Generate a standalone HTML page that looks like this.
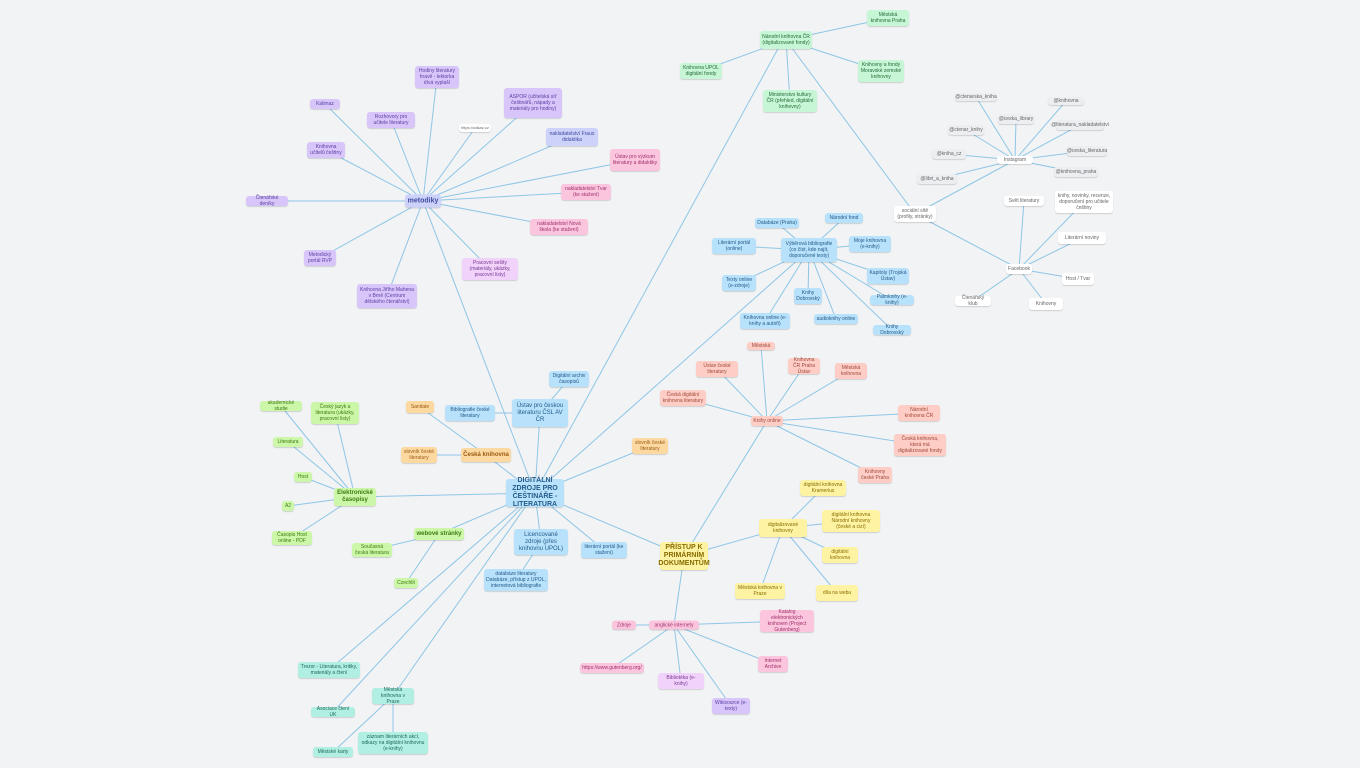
<!DOCTYPE html>
<html><head><meta charset="utf-8"><style>
html,body{margin:0;padding:0;background:#f2f3f5;width:1360px;height:768px;overflow:hidden;font-family:"Liberation Sans",sans-serif}
svg{position:absolute;left:0;top:0}
.n{position:absolute;transform:translate(-50%,-50%);border-radius:3px;display:flex;align-items:center;justify-content:center;text-align:center;font-size:5px;line-height:6px;box-shadow:0 1px 1px rgba(0,0,0,.15);box-sizing:border-box;padding:1px 2px}
.pu{background:#d8c6fb;color:#5b3fa0}.pk{background:#fbc5de;color:#a0306a}.gr{background:#c6f6d5;color:#276b3a}
.bl{background:#b8e2fb;color:#245a8a}.sa{background:#fdcdc6;color:#a04a3a}.ye{background:#fdf3a3;color:#8a6d00}
.li{background:#cdf7a8;color:#3d7a10}.or{background:#fdd9a2;color:#9a5a10}.te{background:#b0efe2;color:#1f6b5a}
.wh{background:#fff;color:#666}.gy{background:#eceef1;color:#666}.bp{background:#cdd2fb;color:#3f4aa0}.lp{background:#f0d2fb;color:#7a3a90}
.big{font-size:7px;line-height:8px;font-weight:bold}
</style></head><body>
<svg width="1360" height="768" stroke="#8ec6e6" stroke-width="1" fill="none">
<g>
<line x1="423" y1="201" x2="437" y2="77"/><line x1="423" y1="201" x2="325" y2="104"/><line x1="423" y1="201" x2="391" y2="120"/>
<line x1="423" y1="201" x2="326" y2="150"/><line x1="423" y1="201" x2="267" y2="201"/><line x1="423" y1="201" x2="320" y2="258"/>
<line x1="423" y1="201" x2="387" y2="296"/><line x1="423" y1="201" x2="475" y2="128"/><line x1="423" y1="201" x2="533" y2="103"/>
<line x1="423" y1="201" x2="572" y2="137"/><line x1="423" y1="201" x2="635" y2="160"/><line x1="423" y1="201" x2="586" y2="192"/>
<line x1="423" y1="201" x2="559" y2="227"/><line x1="423" y1="201" x2="490" y2="269"/>
<line x1="535" y1="493" x2="423" y2="201"/><line x1="535" y1="493" x2="780" y2="45"/><line x1="535" y1="493" x2="809" y2="250"/>
<line x1="535" y1="493" x2="684" y2="556"/><line x1="535" y1="493" x2="355" y2="497"/><line x1="535" y1="493" x2="439" y2="534"/>
<line x1="535" y1="493" x2="541" y2="542"/><line x1="535" y1="493" x2="604" y2="550"/><line x1="535" y1="493" x2="540" y2="413"/>
<line x1="535" y1="493" x2="486" y2="455"/><line x1="535" y1="493" x2="650" y2="446"/><line x1="535" y1="493" x2="329" y2="670"/>
<line x1="535" y1="493" x2="333" y2="712"/><line x1="535" y1="493" x2="393" y2="696"/>
<line x1="540" y1="413" x2="569" y2="379"/><line x1="540" y1="413" x2="470" y2="413"/>
<line x1="486" y1="455" x2="420" y2="407"/><line x1="486" y1="455" x2="419" y2="455"/>
<line x1="355" y1="497" x2="281" y2="406"/><line x1="355" y1="497" x2="335" y2="413"/><line x1="355" y1="497" x2="288" y2="442"/>
<line x1="355" y1="497" x2="303" y2="477"/><line x1="355" y1="497" x2="288" y2="506"/><line x1="355" y1="497" x2="292" y2="538"/>
<line x1="439" y1="534" x2="372" y2="550"/><line x1="439" y1="534" x2="406" y2="583"/><line x1="541" y1="542" x2="516" y2="580"/>
<line x1="393" y1="696" x2="333" y2="752"/><line x1="393" y1="696" x2="393" y2="743"/>
<line x1="786" y1="40" x2="888" y2="18"/><line x1="786" y1="40" x2="701" y2="71"/><line x1="786" y1="40" x2="881" y2="71"/>
<line x1="786" y1="40" x2="790" y2="101"/><line x1="786" y1="40" x2="915" y2="214"/>
<line x1="915" y1="214" x2="1015" y2="160"/><line x1="915" y1="214" x2="1019" y2="269"/>
<line x1="1015" y1="160" x2="976" y2="97"/><line x1="1015" y1="160" x2="1066" y2="101"/><line x1="1015" y1="160" x2="1016" y2="119"/>
<line x1="1015" y1="160" x2="966" y2="130"/><line x1="1015" y1="160" x2="1080" y2="125"/><line x1="1015" y1="160" x2="949" y2="154"/>
<line x1="1015" y1="160" x2="1087" y2="151"/><line x1="1015" y1="160" x2="1076" y2="172"/><line x1="1015" y1="160" x2="937" y2="179"/>
<line x1="1019" y1="269" x2="1024" y2="201"/><line x1="1019" y1="269" x2="1084" y2="202"/><line x1="1019" y1="269" x2="1082" y2="238"/>
<line x1="1019" y1="269" x2="1078" y2="279"/><line x1="1019" y1="269" x2="973" y2="301"/><line x1="1019" y1="269" x2="1046" y2="304"/>
<line x1="809" y1="250" x2="777" y2="223"/><line x1="809" y1="250" x2="844" y2="218"/><line x1="809" y1="250" x2="734" y2="246"/>
<line x1="809" y1="250" x2="870" y2="244"/><line x1="809" y1="250" x2="739" y2="283"/><line x1="809" y1="250" x2="888" y2="276"/>
<line x1="809" y1="250" x2="808" y2="296"/><line x1="809" y1="250" x2="765" y2="321"/><line x1="809" y1="250" x2="892" y2="300"/>
<line x1="809" y1="250" x2="836" y2="319"/><line x1="809" y1="250" x2="892" y2="330"/>
<line x1="684" y1="556" x2="767" y2="421"/><line x1="684" y1="556" x2="783" y2="528"/><line x1="684" y1="556" x2="674" y2="625"/>
<line x1="767" y1="421" x2="761" y2="346"/><line x1="767" y1="421" x2="717" y2="369"/><line x1="767" y1="421" x2="804" y2="366"/>
<line x1="767" y1="421" x2="851" y2="371"/><line x1="767" y1="421" x2="683" y2="398"/><line x1="767" y1="421" x2="919" y2="413"/>
<line x1="767" y1="421" x2="920" y2="445"/><line x1="767" y1="421" x2="875" y2="475"/>
<line x1="783" y1="528" x2="823" y2="488"/><line x1="783" y1="528" x2="851" y2="521"/><line x1="783" y1="528" x2="840" y2="555"/>
<line x1="783" y1="528" x2="760" y2="591"/><line x1="783" y1="528" x2="837" y2="593"/>
<line x1="674" y1="625" x2="624" y2="625"/><line x1="674" y1="625" x2="787" y2="621"/><line x1="674" y1="625" x2="612" y2="668"/>
<line x1="674" y1="625" x2="681" y2="681"/><line x1="674" y1="625" x2="773" y2="664"/><line x1="674" y1="625" x2="731" y2="706"/>
</g></svg>

<div class="n bp big" style="left:423px;top:201px;width:36px;height:13px">metodiky</div>
<div class="n pu" style="left:437px;top:77px;width:44px;height:22px">Hodiny literatury hravě - lektorka dívá vyplaší</div>
<div class="n pu" style="left:325px;top:104px;width:30px;height:10px">Kalimaz</div>
<div class="n pu" style="left:391px;top:120px;width:48px;height:16px">Rozhovory pro učitele literatury</div>
<div class="n pu" style="left:326px;top:150px;width:38px;height:16px">Knihovna učitelů češtiny</div>
<div class="n pu" style="left:267px;top:201px;width:42px;height:10px">Čtenářské deníky</div>
<div class="n pu" style="left:320px;top:258px;width:32px;height:16px">Metodický portál RVP</div>
<div class="n pu" style="left:387px;top:296px;width:60px;height:24px">Knihovna Jiřího Mahena v Brně (Centrum dětského čtenářství)</div>
<div class="n wh" style="left:475px;top:128px;width:32px;height:8px;font-size:4px">https://odkaz.cz</div>
<div class="n pu" style="left:533px;top:103px;width:58px;height:30px">ASPOR (učitelská síť češtinářů, nápady a materiály pro hodiny)</div>
<div class="n bp" style="left:572px;top:137px;width:52px;height:18px">nakladatelství Fraus didaktika</div>
<div class="n pk" style="left:635px;top:160px;width:50px;height:22px">Ústav pro výzkum literatury a didaktiky</div>
<div class="n pk" style="left:586px;top:192px;width:50px;height:16px">nakladatelství Tvar (ke stažení)</div>
<div class="n pk" style="left:559px;top:227px;width:58px;height:16px">nakladatelství Nová škola (ke stažení)</div>
<div class="n lp" style="left:490px;top:269px;width:56px;height:22px">Pracovní sešity (materiály, ukázky, pracovní listy)</div>

<div class="n bl big" style="left:535px;top:493px;width:58px;height:28px">DIGITÁLNÍ ZDROJE PRO ČEŠTINÁŘE - LITERATURA</div>
<div class="n bl" style="left:540px;top:413px;width:56px;height:28px;font-size:6px;line-height:7px">Ústav pro českou literaturu ČSL AV ČR</div>
<div class="n bl" style="left:569px;top:379px;width:40px;height:16px">Digitální archiv časopisů</div>
<div class="n bl" style="left:470px;top:413px;width:50px;height:16px">Bibliografie české literatury</div>
<div class="n or" style="left:420px;top:407px;width:28px;height:12px">Sanitate</div>
<div class="n or big" style="left:486px;top:455px;width:50px;height:14px;font-size:6px">Česká knihovna</div>
<div class="n or" style="left:419px;top:455px;width:36px;height:16px">slovník české literatury</div>
<div class="n or" style="left:650px;top:446px;width:36px;height:16px">slovník české literatury</div>
<div class="n li big" style="left:355px;top:497px;width:42px;height:18px;font-size:6px;line-height:7px">Elektronické časopisy</div>
<div class="n li" style="left:281px;top:406px;width:42px;height:10px">akademické studie</div>
<div class="n li" style="left:335px;top:413px;width:48px;height:22px">Český jazyk a literatura (ukázky, pracovní listy)</div>
<div class="n li" style="left:288px;top:442px;width:30px;height:10px">Literatura</div>
<div class="n li" style="left:303px;top:477px;width:18px;height:10px">Host</div>
<div class="n li" style="left:288px;top:506px;width:12px;height:10px">A2</div>
<div class="n li" style="left:292px;top:538px;width:40px;height:14px">Časopis Host online - PDF</div>
<div class="n li big" style="left:439px;top:534px;width:50px;height:12px;font-size:6px">webové stránky</div>
<div class="n li" style="left:372px;top:550px;width:40px;height:14px">Současná česká literatura</div>
<div class="n li" style="left:406px;top:583px;width:24px;height:10px">Czechlit</div>
<div class="n bl" style="left:541px;top:542px;width:54px;height:26px;font-size:6px;line-height:7px">Licencované zdroje (přes knihovnu UPOL)</div>
<div class="n bl" style="left:516px;top:580px;width:64px;height:22px">databáze literatury Databáze, přístup z UPOL, internetová bibliografie</div>
<div class="n bl" style="left:604px;top:550px;width:46px;height:16px">literární portál (ke stažení)</div>
<div class="n te" style="left:329px;top:670px;width:62px;height:16px">Trezor - Literatura, kritiky, materiály a čtení</div>
<div class="n te" style="left:333px;top:712px;width:44px;height:10px">Asociace čtení UK</div>
<div class="n te" style="left:393px;top:696px;width:42px;height:16px">Městská knihovna v Praze</div>
<div class="n te" style="left:333px;top:752px;width:40px;height:10px">Městské karty</div>
<div class="n te" style="left:393px;top:743px;width:70px;height:22px">záznam literárních akcí, odkazy na digitální knihovnu (e-knihy)</div>

<div class="n gr" style="left:786px;top:40px;width:52px;height:18px">Národní knihovna ČR (digitalizované fondy)</div>
<div class="n gr" style="left:888px;top:18px;width:42px;height:16px">Městská knihovna Praha</div>
<div class="n gr" style="left:701px;top:71px;width:42px;height:16px">Knihovna UPOL digitální fondy</div>
<div class="n gr" style="left:881px;top:71px;width:46px;height:22px">Knihovny a fondy Moravské zemské knihovny</div>
<div class="n gr" style="left:790px;top:101px;width:54px;height:22px">Ministerstvo kultury ČR (přehled, digitální knihovny)</div>
<div class="n wh" style="left:915px;top:214px;width:42px;height:16px">sociální sítě (profily, stránky)</div>
<div class="n wh" style="left:1015px;top:160px;width:36px;height:8px">Instagram</div>
<div class="n gy" style="left:976px;top:97px;width:42px;height:8px">@ctenarska_kniha</div>
<div class="n gy" style="left:1066px;top:101px;width:36px;height:8px">@knihovna</div>
<div class="n gy" style="left:1016px;top:119px;width:36px;height:10px">@ceska_library</div>
<div class="n gy" style="left:966px;top:130px;width:36px;height:10px">@ctenar_knihy</div>
<div class="n gy" style="left:1080px;top:125px;width:48px;height:10px">@literatura_nakladatelstvi</div>
<div class="n gy" style="left:949px;top:154px;width:34px;height:10px">@kniha_cz</div>
<div class="n gy" style="left:1087px;top:151px;width:40px;height:10px">@ceska_literatura</div>
<div class="n gy" style="left:1076px;top:172px;width:44px;height:10px">@knihovna_praha</div>
<div class="n gy" style="left:937px;top:179px;width:40px;height:10px">@libri_a_kniha</div>
<div class="n wh" style="left:1019px;top:269px;width:26px;height:10px">Facebook</div>
<div class="n wh" style="left:1024px;top:201px;width:40px;height:10px">Svět literatury</div>
<div class="n wh" style="left:1084px;top:202px;width:58px;height:22px">knihy, novinky, recenze, doporučení pro učitele češtiny</div>
<div class="n wh" style="left:1082px;top:238px;width:48px;height:12px">Literární noviny</div>
<div class="n wh" style="left:1078px;top:279px;width:32px;height:12px">Host / Tvar</div>
<div class="n wh" style="left:973px;top:301px;width:36px;height:10px">Čtenářský klub</div>
<div class="n wh" style="left:1046px;top:304px;width:34px;height:12px">Knihovny</div>

<div class="n bl" style="left:809px;top:250px;width:56px;height:24px">Výběrová bibliografie (co číst, kde najít, doporučené texty)</div>
<div class="n bl" style="left:777px;top:223px;width:44px;height:10px">Databáze (Praha)</div>
<div class="n bl" style="left:844px;top:218px;width:38px;height:10px">Národní fond</div>
<div class="n bl" style="left:734px;top:246px;width:44px;height:16px">Literární portál (online)</div>
<div class="n bl" style="left:870px;top:244px;width:42px;height:16px">Moje knihovna (e-knihy)</div>
<div class="n bl" style="left:739px;top:283px;width:34px;height:16px">Texty online (e-zdroje)</div>
<div class="n bl" style="left:888px;top:276px;width:42px;height:16px">Kapitoly (Trojská Ústav)</div>
<div class="n bl" style="left:808px;top:296px;width:28px;height:16px">Knihy Dobrovský</div>
<div class="n bl" style="left:765px;top:321px;width:50px;height:16px">Knihovna online (e-knihy a autoři)</div>
<div class="n bl" style="left:892px;top:300px;width:44px;height:10px">Palmknihy (e-knihy)</div>
<div class="n bl" style="left:836px;top:319px;width:44px;height:10px">audioknihy online</div>
<div class="n bl" style="left:892px;top:330px;width:38px;height:10px">Knihy Dobrovský</div>

<div class="n ye big" style="left:684px;top:556px;width:48px;height:28px">PŘÍSTUP K PRIMÁRNÍM DOKUMENTŮM</div>
<div class="n sa" style="left:767px;top:421px;width:32px;height:10px">Knihy online</div>
<div class="n sa" style="left:761px;top:346px;width:28px;height:8px">Městská</div>
<div class="n sa" style="left:717px;top:369px;width:42px;height:16px">Ústav české literatury</div>
<div class="n sa" style="left:804px;top:366px;width:32px;height:16px">Knihovna ČR Praha Ústav</div>
<div class="n sa" style="left:851px;top:371px;width:32px;height:16px">Městská knihovna</div>
<div class="n sa" style="left:683px;top:398px;width:46px;height:16px">Česká digitální knihovna literatury</div>
<div class="n sa" style="left:919px;top:413px;width:42px;height:16px">Národní knihovna ČR</div>
<div class="n sa" style="left:920px;top:445px;width:52px;height:22px">Česká knihovna, která má digitalizované fondy</div>
<div class="n sa" style="left:875px;top:475px;width:34px;height:16px">Knihovny české Praha</div>
<div class="n ye" style="left:783px;top:528px;width:48px;height:18px">digitalizované knihovny</div>
<div class="n ye" style="left:823px;top:488px;width:46px;height:16px">digitální knihovna Kramerius</div>
<div class="n ye" style="left:851px;top:521px;width:58px;height:22px">digitální knihovna Národní knihovny (české a cizí)</div>
<div class="n ye" style="left:840px;top:555px;width:36px;height:16px">digitální knihovna</div>
<div class="n ye" style="left:760px;top:591px;width:50px;height:16px">Městská knihovna v Praze</div>
<div class="n ye" style="left:837px;top:593px;width:42px;height:16px">díla na webu</div>
<div class="n pk" style="left:674px;top:625px;width:50px;height:9px">anglické internety</div>
<div class="n pk" style="left:624px;top:625px;width:24px;height:9px">Zdroje</div>
<div class="n pk" style="left:787px;top:621px;width:54px;height:22px">Katalog elektronických knihoven (Project Gutenberg)</div>
<div class="n pk" style="left:612px;top:668px;width:64px;height:10px">https://www.gutenberg.org/</div>
<div class="n lp" style="left:681px;top:681px;width:46px;height:16px">Bibliotéka (e-knihy)</div>
<div class="n pk" style="left:773px;top:664px;width:30px;height:16px">Internet Archive</div>
<div class="n pu" style="left:731px;top:706px;width:38px;height:16px">Wikisource (e-texty)</div>
</body></html>
